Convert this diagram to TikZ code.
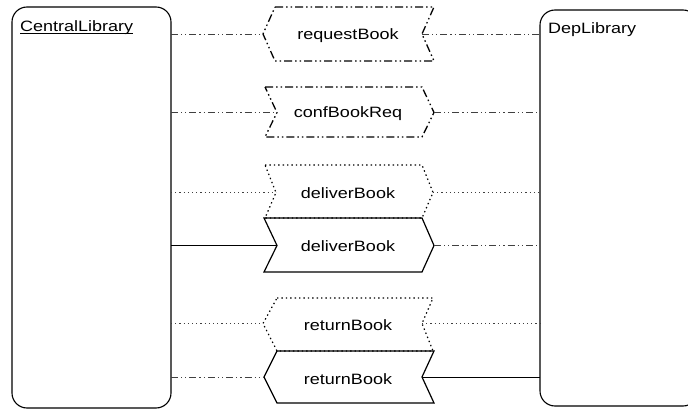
\documentclass[tikz,border=0pt]{standalone}
\usepackage{fontspec}
\setmainfont{Liberation Sans}[FakeStretch=1.2]
\begin{document}
\begin{tikzpicture}[x=1pt,y=-1pt,
  lib/.style={draw, line width=1.1pt, rounded corners=15pt, inner sep=0pt, outer sep=0pt, anchor=north west},
  lbl/.style={inner sep=0pt, font=\fontsize{15}{18}\selectfont},
  msgtxt/.style={inner sep=0pt, anchor=base, font=\fontsize{15}{18}\selectfont},
  msolid/.style={draw, line width=1.2pt, line join=miter},
  mdot/.style={draw, line width=1.2pt, dash pattern=on 1.4pt off 3pt},
  mdd/.style={draw, line width=1.3pt, dash pattern=on 8pt off 3pt on 1.5pt off 3pt on 1.5pt off 3pt},
  csolid/.style={draw, line width=0.8pt},
  cdot/.style={draw, line width=0.8pt, black!75, dash pattern=on 1.2pt off 3pt},
  cdd/.style={draw, line width=0.8pt, black!75, dash pattern=on 7pt off 3pt on 1.2pt off 3pt on 1.2pt off 3pt}]
\useasboundingbox (0,0) rectangle (688,409);
\fill[white] (0,0) rectangle (688,409);

% lifeline boxes
\node[lib, minimum width=159pt, minimum height=401pt] (cl) at (12,7) {};
\node[lib, minimum width=158pt, minimum height=396pt] (dl) at (540,10) {};
\node[lbl, anchor=base west] (cllabel) at (20,31.5) {CentralLibrary};
\draw[line width=0.8pt] ([yshift=-1.8pt]cllabel.base west) -- ([yshift=-1.8pt]cllabel.base east);
\node[lbl, anchor=base west] (dllabel) at (548,34) {DepLibrary};

% 1 requestBook (left-pointing, dash-dot-dot)
\draw[mdd] (275,7) -- (434,7) -- (422,34) -- (434,61) -- (275,61) -- (263,34) -- cycle;
\coordinate (m1w) at (263,34); \coordinate (m1e) at (422,34);
\node[msgtxt] (t1) at (348,40) {requestBook};

% 2 confBookReq (right-pointing, dash-dot-dot)
\draw[mdd] (265,87) -- (422,87) -- (434,112.5) -- (422,137) -- (265,137) -- (277,112.5) -- cycle;
\coordinate (m2w) at (277,112.5); \coordinate (m2e) at (434,112.5);
\node[msgtxt] (t2) at (348,117.5) {confBookReq};

% 3 deliverBook (dotted, right-pointing)
\draw[mdot] (265,165) -- (422,165) -- (433,192.5) -- (422,218) -- (265,218) -- (276,192.5) -- cycle;
\coordinate (m3w) at (276,192.5); \coordinate (m3e) at (433,192.5);
\node[msgtxt] (t3) at (348,198) {deliverBook};

% 4 deliverBook (solid, right-pointing)
\draw[msolid] (264,218) -- (422,218) -- (434,245.5) -- (422,272) -- (264,272) -- (277,245.5) -- cycle;
\coordinate (m4w) at (277,245.5); \coordinate (m4e) at (434,245.5);
\node[msgtxt] (t4) at (348,251) {deliverBook};

% 5 returnBook (dotted, left-pointing)
\draw[mdot] (277,298) -- (433,298) -- (422,323.5) -- (433,351) -- (277,351) -- (263,323.5) -- cycle;
\coordinate (m5w) at (263,323.5); \coordinate (m5e) at (422,323.5);
\node[msgtxt] (t5) at (348,330.5) {returnBook};

% 6 returnBook (solid, left-pointing)
\draw[msolid] (277,351) -- (434,351) -- (422,377) -- (434,403) -- (277,403) -- (264,377) -- cycle;
\coordinate (m6w) at (264,377); \coordinate (m6e) at (422,377);
\node[msgtxt] (t6) at (348,384) {returnBook};

% connectors
\draw[cdd] (cl.east |- m1w) -- (m1w);
\draw[cdd] (m1e) -- (dl.west |- m1e);
\draw[cdd] (cl.east |- m2w) -- (m2w);
\draw[cdd] (m2e) -- (dl.west |- m2e);
\draw[cdot] (cl.east |- m3w) -- (m3w);
\draw[cdot] (m3e) -- (dl.west |- m3e);
\draw[csolid] (cl.east |- m4w) -- (m4w);
\draw[cdd] (m4e) -- (dl.west |- m4e);
\draw[cdot] (cl.east |- m5w) -- (m5w);
\draw[cdot] (m5e) -- (dl.west |- m5e);
\draw[cdd] (cl.east |- m6w) -- (m6w);
\draw[csolid] (m6e) -- (dl.west |- m6e);
\end{tikzpicture}
\end{document}
